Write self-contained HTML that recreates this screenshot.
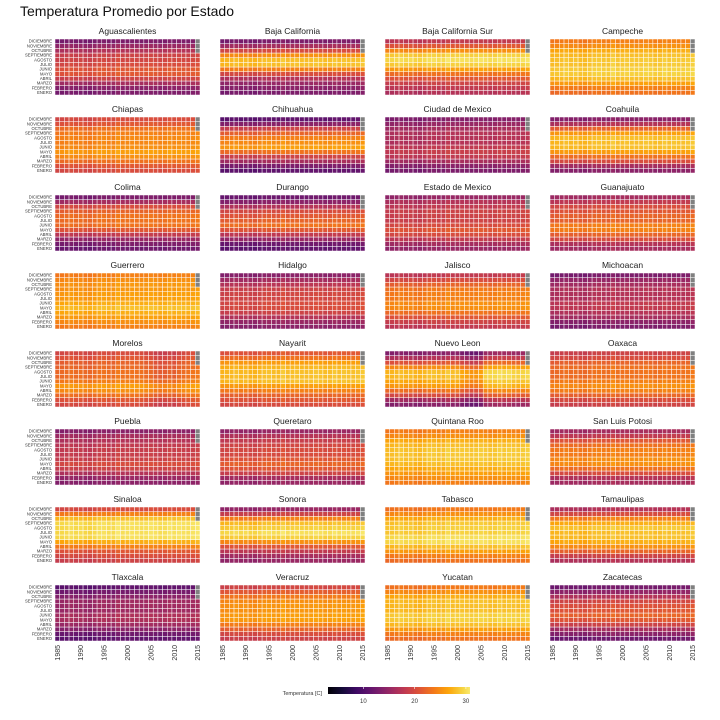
<!DOCTYPE html>
<html><head><meta charset="utf-8">
<style>
body{margin:0;background:#fff;}
svg{display:block;font-family:"Liberation Sans",sans-serif;}
</style></head>
<body>
<svg id="chart" width="720" height="720"></svg>
<script>
const states=["Aguascalientes","Baja California","Baja California Sur","Campeche","Chiapas","Chihuahua","Ciudad de Mexico","Coahuila","Colima","Durango","Estado de Mexico","Guanajuato","Guerrero","Hidalgo","Jalisco","Michoacan","Morelos","Nayarit","Nuevo Leon","Oaxaca","Puebla","Queretaro","Quintana Roo","San Luis Potosi","Sinaloa","Sonora","Tabasco","Tamaulipas","Tlaxcala","Veracruz","Yucatan","Zacatecas"];
const months=["ENERO","FEBRERO","MARZO","ABRIL","MAYO","JUNIO","JULIO","AGOSTO","SEPTIEMBRE","OCTUBRE","NOVIEMBRE","DICIEMBRE"];
const years=[1985,1986,1987,1988,1989,1990,1991,1992,1993,1994,1995,1996,1997,1998,1999,2000,2001,2002,2003,2004,2005,2006,2007,2008,2009,2010,2011,2012,2013,2014,2015];
const yearTicks=[1985,1990,1995,2000,2005,2010,2015];
const legendTicks=[10,20,30];
const monthlyMeans=[
[13,14,16,19,21,21,20,19.5,19,17,15,13],
[13,14,15,17,20,24,28,28,25,20,16,13],
[17,18,19,21,23,26,29,30,29,25,21,18],
[23,24,26,28,29,29,28.5,28.5,28,27,25,24],
[20,21,23,25,26,25,24.5,24.5,24,23,21,20],
[11,13,16,19,23,26,25,24,22,19,14,11],
[13,14,16,18,18.5,18,17,17,17,16,15,13.5],
[14,16,20,23,26,28,28,28,26,22,17,14],
[12,13,15,18,21,23,23,23,22,20,16,13],
[11,12,15,18,21,23,22,21,20,17,14,12],
[15,16,18,20,21,20,19,19,19,18,17,15],
[16,17,20,22,24,24,22,22,21,20,18,16],
[24,25,26,27,28,27,26,26,25.5,25.5,25,24],
[14,15,17,19,20,20,19.5,19.5,19,17.5,16,14],
[18,19,21,23,25,25,24,24,23.5,22,20,18],
[13,14,16,17,18,18,17,17,17,16,15,13],
[20,21,23,25,26,24,23,23,22.5,22,21,20],
[20,21,22,24,26,28,28,28,27.5,26,23,21],
[14,16,20,23,26,27,28,28,25,21,17,14],
[19,20,22,24,25,24,23,23,23,22,20,19],
[14,15,17,19,20,19,18.5,18.5,18,17,16,14],
[15,16,19,21,22,21,20,20,19.5,18.5,17,15],
[24,25,26,27,28,28.5,28.5,28.5,28,27,25,24],
[16,17,20,23,25,25,24,24,23,21,18,16],
[19,20,21,24,27,30,30,30,30,28,24,20],
[15,16,18,21,25,29,30,29,28,24,19,15],
[23,24,26,28,30,30,29,29,28.5,27,25,23.5],
[17,19,22,25,27,28,28,28.5,27,24,20,17],
[11,12,14,15.5,16.5,16.5,15.5,15.5,15.5,14,12.5,11],
[19,20,22,24,26,26,25.5,25.5,25,23.5,21.5,19.5],
[23,24,26,28,29,29,28,28,28,27,25,23.5],
[12,14,16,19,21,22,21,20.5,19.5,17,14.5,12.5]];
const yearAnomaly=[-0.6,-0.4,-0.2,0.1,-0.3,-0.1,-0.5,-0.6,-0.2,0.2,0.3,0,-0.1,0.8,0.1,0.2,0.3,0.2,0.1,0.2,0.5,0.3,0,0.1,0.6,0.2,0.5,0.3,0.2,0.4,0.7];
const nuevoLeonAnomaly=[0,0,0,0,0,0,0,0,0,0,0,0,0,0,0,0,-1.5,-2,-2.5,-2.5,-2,1,1.5,1.5,1.5,1.5,1.5,1,1,1,1];
const morelosAnomaly=[0,0,0,0,0,0,0,0,0,0,0,0,0,0,0,0,0,0,0,-0.5,-1,-1.5,-1.5,-1.5,-1.5,-1.5,-1,-0.5,0,0,0];
const naYear=2015, naMonths=[9,10,11];

const stops=["#000004","#160b39","#420a68","#6a176e","#932667","#bc3754","#dd513a","#f37819","#fca50a","#f6d746","#fcffa4"];
const vmin=3, vmax=32.5;
function hex(h){return [1,3,5].map(i=>parseInt(h.substr(i,2),16));}
function color(v){let t=(v-vmin)/(vmax-vmin);t=Math.max(0,Math.min(1,t));const p=t*10,i=Math.min(9,Math.floor(p)),f=p-i;const a=hex(stops[i]),b=hex(stops[i+1]);return "rgb("+a.map((x,k)=>Math.round(x+(b[k]-x)*f)).join(",")+")";}
const NS="http://www.w3.org/2000/svg";
const svg=document.getElementById('chart');
function mk(tag,attrs,parent){const e=document.createElementNS(NS,tag);for(const k in attrs)e.setAttribute(k,attrs[k]);(parent||svg).appendChild(e);return e;}

const title=mk('text',{x:20,y:16,'font-size':14,fill:'#111'});
title.textContent="Temperatura Promedio por Estado";



const PW=145,PH=56;
const cw=PW/years.length, ch=PH/months.length;
function xScale(x0,i){return x0+i*cw;}
function yScale(y0,m){return y0+PH-(m+1)*ch;}

states.forEach((s,si)=>{
  const c=si%4,r=Math.floor(si/4);
  const x0=55+c*165,y0=39+r*78;
  const g=mk('g',{});
  
  
  const t=mk('text',{x:x0+PW/2,y:y0-5,'text-anchor':'middle','font-size':8.5,fill:'#222'},g);
  t.textContent=s;
  
  
  if(c===0){
    months.forEach((m,mi)=>{
      const l=mk('text',{x:x0-3,y:yScale(y0,mi)+ch*0.8,'text-anchor':'end','font-size':4.2,fill:'#333'},g);
      l.textContent=m;
      
      
    });
  }
  years.forEach((yr,yi)=>{
    months.forEach((m,mi)=>{
      let v=monthlyMeans[si][mi]+yearAnomaly[yi];
      if(s==="Nuevo Leon")v+=nuevoLeonAnomaly[yi];
      if(s==="Morelos")v+=morelosAnomaly[yi];
      const na=(yr===naYear&&naMonths.includes(mi));
      const rc=mk('rect',{x:xScale(x0,yi),y:yScale(y0,mi),width:cw,height:ch,fill:na?'#808080':color(v),stroke:'#fff','stroke-width':0.5},g);
      
      
    });
  });
  if(r===7){
    yearTicks.forEach(yt=>{
      const cx=xScale(x0,years.indexOf(yt))+cw/2;
      const tt=mk('text',{transform:`translate(${cx+2.5},${y0+PH+4}) rotate(-90)`,'text-anchor':'end','font-size':7,fill:'#333'},g);
      tt.textContent=yt;
      
      
    });
  }
});

// legend
const lg=mk('g',{});


const defs=mk('defs',{});
const grad=mk('linearGradient',{id:'inf',x1:0,x2:1,y1:0,y2:0},defs);
const lx0=328,lx1=470,lmin=3.1,lmax=30.8;
for(let k=0;k<=20;k++){const v=lmin+(lmax-lmin)*k/20;mk('stop',{offset:(k/20),'stop-color':color(v)},grad);}
const bar=mk('rect',{x:lx0,y:687,width:lx1-lx0,height:7,fill:'url(#inf)'},lg);


const lt=mk('text',{x:322,y:695,'text-anchor':'end','font-size':5.5,fill:'#333'},lg);
lt.textContent="Temperatura [C]";


legendTicks.forEach(v=>{
  const x=lx0+(v-lmin)/(lmax-lmin)*(lx1-lx0);
  mk('line',{x1:x,x2:x,y1:687,y2:689,stroke:'#fff','stroke-width':0.6},lg);
  const tx=mk('text',{x:x,y:703,'text-anchor':'middle','font-size':6,fill:'#333'},lg);
  tx.textContent=v;
  
  
});
</script>
</body></html>
